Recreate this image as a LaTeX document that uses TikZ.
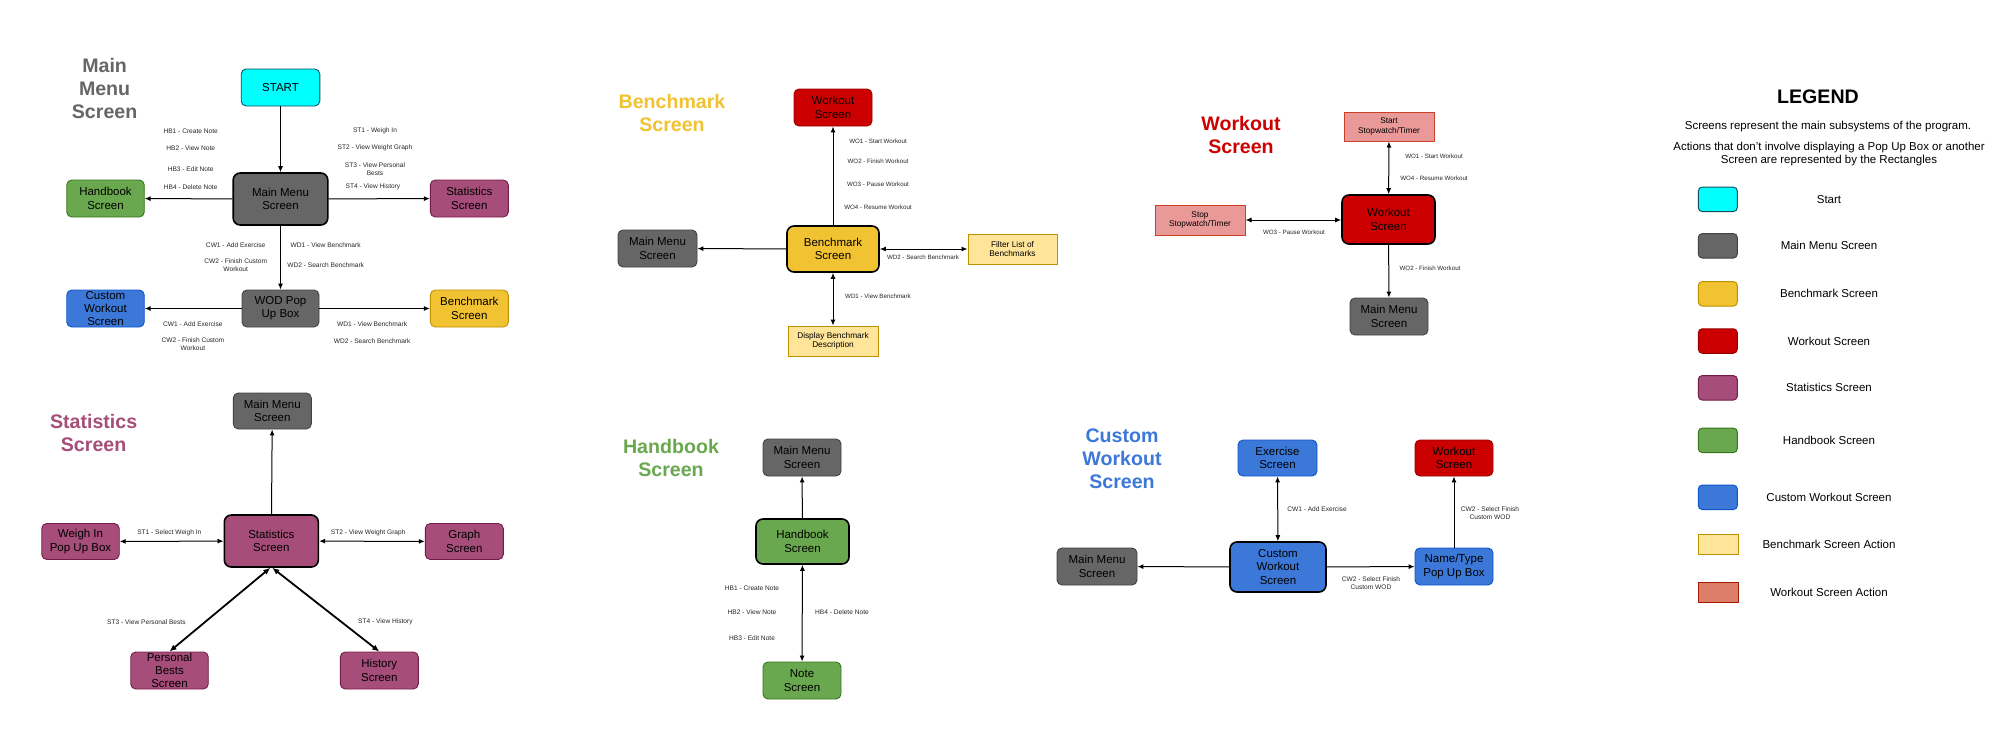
\documentclass[tikz,border=0pt]{standalone}
\usepackage{fontspec}
\setmainfont{Liberation Sans}
\usetikzlibrary{arrows.meta}
\definecolor{cCyan}{HTML}{00FFFF}\definecolor{cCyanB}{HTML}{134F5C}
\definecolor{cGray}{HTML}{666666}\definecolor{cGrayB}{HTML}{434343}
\definecolor{cYel}{HTML}{F1C232}\definecolor{cYelB}{HTML}{BF9000}
\definecolor{cRed}{HTML}{CC0000}\definecolor{cRedB}{HTML}{990000}
\definecolor{cPur}{HTML}{A64D79}\definecolor{cPurB}{HTML}{741B47}
\definecolor{cGrn}{HTML}{6AA84F}\definecolor{cGrnB}{HTML}{38761D}
\definecolor{cBlu}{HTML}{3C78D8}\definecolor{cBluB}{HTML}{1155CC}
\definecolor{cLY}{HTML}{FFE599}
\definecolor{cWA}{HTML}{EA9999}\definecolor{cWAB}{HTML}{CC4125}
\definecolor{cWL}{HTML}{DD7E6B}\definecolor{cWLB}{HTML}{A61C00}
\newcommand\fBoxL{\fontsize{11.5}{13.3}\selectfont}
\newcommand\fAct{\fontsize{8.3}{9.3}\selectfont}
\newcommand\fLab{\fontsize{6.2}{8}\selectfont}
\newcommand\fLabL{\fontsize{6.6}{8}\selectfont}
\newcommand\fTitle{\bfseries\fontsize{19.6}{23}\selectfont}
\newcommand\fLeg{\fontsize{11.5}{13.3}\selectfont}
\newcommand\fLegT{\bfseries\fontsize{19.6}{24}\selectfont}
\tikzset{
  scr/.style={draw, rounded corners=5pt, line width=0.9pt, align=center, inner sep=0pt,
    minimum width=78pt, minimum height=37pt, font=\fBoxL, text=black},
  hub/.style={draw=black, line width=1.6pt, rounded corners=7pt},
  act/.style={draw, line width=1pt, align=center, inner sep=0pt, minimum width=90pt,
    minimum height=30pt, font=\fAct, text=black},
  sCyan/.style={fill=cCyan, draw=cCyanB},
  sGray/.style={fill=cGray, draw=cGrayB},
  sYel/.style={fill=cYel, draw=cYelB},
  sRed/.style={fill=cRed, draw=cRedB},
  sPur/.style={fill=cPur, draw=cPurB},
  sGrn/.style={fill=cGrn, draw=cGrnB},
  sBlu/.style={fill=cBlu, draw=cBluB},
  sLY/.style={fill=cLY, draw=cYelB},
  sWA/.style={fill=cWA, draw=cWAB},
  sWL/.style={fill=cWL, draw=cWLB},
  ttl/.style={font=\fTitle, align=center, inner sep=0pt},
  lbl/.style={font=\fLab, align=center, inner sep=0pt, text=black!85},
  lblL/.style={font=\fLabL, align=center, inner sep=0pt, text=black!85},
  arr/.style={-{Latex[length=6pt,width=5pt]}, line width=1pt},
  darr/.style={{Latex[length=6pt,width=5pt]}-{Latex[length=6pt,width=5pt]}, line width=1pt},
  tdarr/.style={{Latex[length=7pt,width=6pt]}-{Latex[length=7pt,width=6pt]}, line width=1.8pt},
  sw/.style={draw, line width=1pt, rounded corners=4pt, minimum width=39pt, minimum height=24.5pt, inner sep=0pt},
  swr/.style={draw, line width=1pt, minimum width=40.5pt, minimum height=20pt, inner sep=0pt},
  legl/.style={font=\fLeg, align=center, inner sep=0pt}
}
\begin{document}
\begin{tikzpicture}[x=1pt,y=-1pt]
\fill[white] (0,0) rectangle (2000,745);
\useasboundingbox (0,0) rectangle (2000,745);

% ---------------- Main Menu Screen ----------------
\node[ttl, text=cGray] (t1) at (104.6,88) {Main\\Menu\\Screen};
\node[scr, sCyan, minimum width=78.6pt] (start) at (280.5,87.5) {START};
\node[scr, sGray, hub, minimum width=94.6pt, minimum height=52pt] (mm1) at (280.5,199) {Main Menu\\Screen};
\node[scr, sGrn, minimum width=77.5pt] (hb1) at (105.5,198.5) {Handbook\\Screen};
\node[scr, sPur] (st1) at (469.3,198.5) {Statistics\\Screen};
\node[scr, sGray, minimum width=77pt] (wod) at (280.5,308.5) {WOD Pop\\Up Box};
\node[scr, sBlu, minimum width=77.5pt] (cw1) at (105.5,308.5) {Custom\\Workout\\Screen};
\node[scr, sYel] (bm1) at (469.3,308.5) {Benchmark\\Screen};
\draw[arr] (start) -- (mm1);
\draw[arr] (mm1) -- (hb1);
\draw[arr] (mm1) -- (st1);
\draw[arr] (mm1) -- (wod);
\draw[arr] (wod) -- (cw1);
\draw[arr] (wod) -- (bm1);
\node[lblL] (l1a) at (190.7,131) {HB1 - Create Note};
\node[lblL] (l1b) at (190.7,148) {HB2 - View Note};
\node[lblL] (l1c) at (190.7,169) {HB3 - Edit Note};
\node[lblL] (l1d) at (190.7,187) {HB4 - Delete Note};
\node[lblL] (l1e) at (375,131) {ST1 - Weigh In};
\node[lblL] (l1f) at (375,148) {ST2 - View Weight Graph};
\node[lblL] (l1g) at (375,169) {ST3 - View Personal\\Bests};
\node[lblL] (l1h) at (373,187) {ST4 - View History};
\node[lblL] (l1i) at (235.7,245) {CW1 - Add Exercise};
\node[lblL] (l1j) at (235.7,265) {CW2 - Finish Custom\\Workout};
\node[lblL] (l1k) at (325.7,245) {WD1 - View Benchmark};
\node[lblL] (l1l) at (325.7,265) {WD2 - Search Benchmark};
\node[lblL] (l1m) at (192.9,324) {CW1 - Add Exercise};
\node[lblL] (l1n) at (192.9,344) {CW2 - Finish Custom\\Workout};
\node[lblL] (l1o) at (372.1,324) {WD1 - View Benchmark};
\node[lblL] (l1p) at (372.1,341) {WD2 - Search Benchmark};

% ---------------- Statistics Screen ----------------
\node[ttl, text=cPur] (t2) at (93.6,433) {Statistics\\Screen};
\node[scr, sGray, minimum height=36pt] (mm2) at (272.3,411) {Main Menu\\Screen};
\node[scr, sPur, hub, minimum width=94pt, minimum height=52pt] (stc) at (271.3,541) {Statistics\\Screen};
\node[scr, sPur, minimum width=77.5pt, minimum height=36pt] (wi) at (80.5,541.5) {Weigh In\\Pop Up Box};
\node[scr, sPur, minimum height=36pt] (gr) at (464.3,541.5) {Graph\\Screen};
\node[scr, sPur, minimum width=77.5pt] (pb) at (169.5,670.5) {Personal\\Bests\\Screen};
\node[scr, sPur] (hi) at (379.3,670.5) {History\\Screen};
\draw[arr] (stc) -- (mm2);
\draw[darr] (wi) -- (stc);
\draw[darr] (stc) -- (gr);
\draw[tdarr] ([xshift=-1pt]stc.south) -- (pb.north);
\draw[tdarr] ([xshift=1pt]stc.south) -- (hi.north);
\node[lblL] (l2a) at (169.3,533) {ST1 - Select Weigh In};
\node[lblL] (l2b) at (368.2,533) {ST2 - View Weight Graph};
\node[lblL] (l2c) at (146.4,622) {ST3 - View Personal Bests};
\node[lblL] (l2d) at (385.4,622) {ST4 - View History};

% ---------------- Benchmark Screen ----------------
\node[ttl, text=cYel] (t3) at (672,112.5) {Benchmark\\Screen};
\node[scr, sRed] (wo3) at (833,107.5) {Workout\\Screen};
\node[scr, sYel, hub, minimum width=92pt, minimum height=46pt] (bmc) at (833,249) {Benchmark\\Screen};
\node[scr, sGray, minimum width=79pt] (mm3) at (657.5,248.5) {Main Menu\\Screen};
\node[act, sLY, minimum width=89pt] (fl) at (1012.5,249) {Filter List of\\Benchmarks};
\node[act, sLY] (db) at (833,341) {Display Benchmark\\Description};
\draw[arr] (bmc) -- (wo3);
\draw[arr] (bmc) -- (mm3);
\draw[darr] (bmc) -- (fl);
\draw[darr] (bmc) -- (db);
\node[lbl] (l3a) at (878,141) {WO1 - Start Workout};
\node[lbl] (l3b) at (878,161) {WO2 - Finish Workout};
\node[lbl] (l3c) at (878,184) {WO3 - Pause Workout};
\node[lbl] (l3d) at (878,207) {WO4 - Resume Workout};
\node[lbl] (l3e) at (923,257) {WD2 - Search Benchmark};
\node[lbl] (l3f) at (878,296) {WD1 - View Benchmark};

% ---------------- Workout Screen ----------------
\node[ttl, text=cRed] (t4) at (1241,134.5) {Workout\\Screen};
\node[act, sWA, minimum height=29pt] (ss) at (1389,126.5) {Start\\Stopwatch/Timer};
\node[scr, sRed, hub, minimum width=93pt, minimum height=49pt] (woc) at (1388.5,219.5) {Workout\\Screen};
\node[act, sWA] (sp) at (1200,220) {Stop\\Stopwatch/Timer};
\node[scr, sGray] (mm4) at (1389,316.5) {Main Menu\\Screen};
\draw[darr] (woc) -- (ss);
\draw[darr] (sp.east) -- (sp.east -| woc.west);
\draw[arr] (woc) -- (mm4);
\node[lbl] (l4a) at (1434,156) {WO1 - Start Workout};
\node[lbl] (l4b) at (1434,178) {WO4 - Resume Workout};
\node[lbl] (l4c) at (1294,232) {WO3 - Pause Workout};
\node[lbl] (l4d) at (1430,268) {WO2 - Finish Workout};

% ---------------- Handbook Screen ----------------
\node[ttl, text=cGrn] (t5) at (671,458) {Handbook\\Screen};
\node[scr, sGray] (mm5) at (802,457.5) {Main Menu\\Screen};
\node[scr, sGrn, hub, minimum width=93pt, minimum height=45pt] (hbc) at (802.5,541.5) {Handbook\\Screen};
\node[scr, sGrn] (ns) at (802,680.5) {Note\\Screen};
\draw[arr] (hbc) -- (mm5);
\draw[darr] (hbc) -- (ns);
\node[lblL] (l5a) at (752,588) {HB1 - Create Note};
\node[lblL] (l5b) at (752,612) {HB2 - View Note};
\node[lblL] (l5c) at (752,638) {HB3 - Edit Note};
\node[lblL] (l5d) at (842,612) {HB4 - Delete Note};

% ---------------- Custom Workout Screen ----------------
\node[ttl, text=cBlu] (t6) at (1122,459) {Custom\\Workout\\Screen};
\node[scr, sBlu, minimum width=79pt, minimum height=36pt] (ex) at (1277.5,458) {Exercise\\Screen};
\node[scr, sRed, minimum height=36pt] (wo6) at (1454,458) {Workout\\Screen};
\node[scr, sBlu, hub, minimum width=96pt, minimum height=50pt] (cwc) at (1278,567) {Custom\\Workout\\Screen};
\node[scr, sGray, minimum width=80pt] (mm6) at (1097,566.5) {Main Menu\\Screen};
\node[scr, sBlu] (nt) at (1454,566.5) {Name/Type\\Pop Up Box};
\draw[darr] (cwc) -- (ex);
\draw[arr] (cwc) -- (mm6);
\draw[arr] (cwc) -- (nt);
\draw[arr] (nt) -- (wo6);
\node[lblL] (l6a) at (1317,509) {CW1 - Add Exercise};
\node[lblL] (l6b) at (1490,513) {CW2 - Select Finish\\Custom WOD};
\node[lblL] (l6c) at (1371,583) {CW2 - Select Finish\\Custom WOD};

% ---------------- Legend ----------------
\node[font=\fLegT, inner sep=0pt] (lt) at (1818,96.7) {LEGEND};
\node[legl] (ld1) at (1828,126.7) {Screens represent the main subsystems of the program.};
\node[legl] (ld2) at (1829,154) {Actions that don't involve displaying a Pop Up Box or another\\Screen are represented by the Rectangles};
\node[sw, sCyan] (k1) at (1717.8,199.3) {};
\node[legl] (k1l) at (1829,199.3) {Start};
\node[sw, sGray] (k2) at (1717.8,245.8) {};
\node[legl] (k2l) at (1829,245.5) {Main Menu Screen};
\node[sw, sYel] (k3) at (1717.8,293.8) {};
\node[legl] (k3l) at (1829,293.7) {Benchmark Screen};
\node[sw, sRed] (k4) at (1717.8,341) {};
\node[legl] (k4l) at (1829,341) {Workout Screen};
\node[sw, sPur] (k5) at (1717.8,387.8) {};
\node[legl] (k5l) at (1829,387.7) {Statistics Screen};
\node[sw, sGrn] (k6) at (1717.8,440.3) {};
\node[legl] (k6l) at (1829,440) {Handbook Screen};
\node[sw, sBlu] (k7) at (1717.8,497.3) {};
\node[legl] (k7l) at (1829,497) {Custom Workout Screen};
\node[swr, sLY] (k8) at (1718.5,544.2) {};
\node[legl] (k8l) at (1829,544) {Benchmark Screen Action};
\node[swr, sWL] (k9) at (1718.5,592) {};
\node[legl] (k9l) at (1829,592.5) {Workout Screen Action};
\end{tikzpicture}
\end{document}
